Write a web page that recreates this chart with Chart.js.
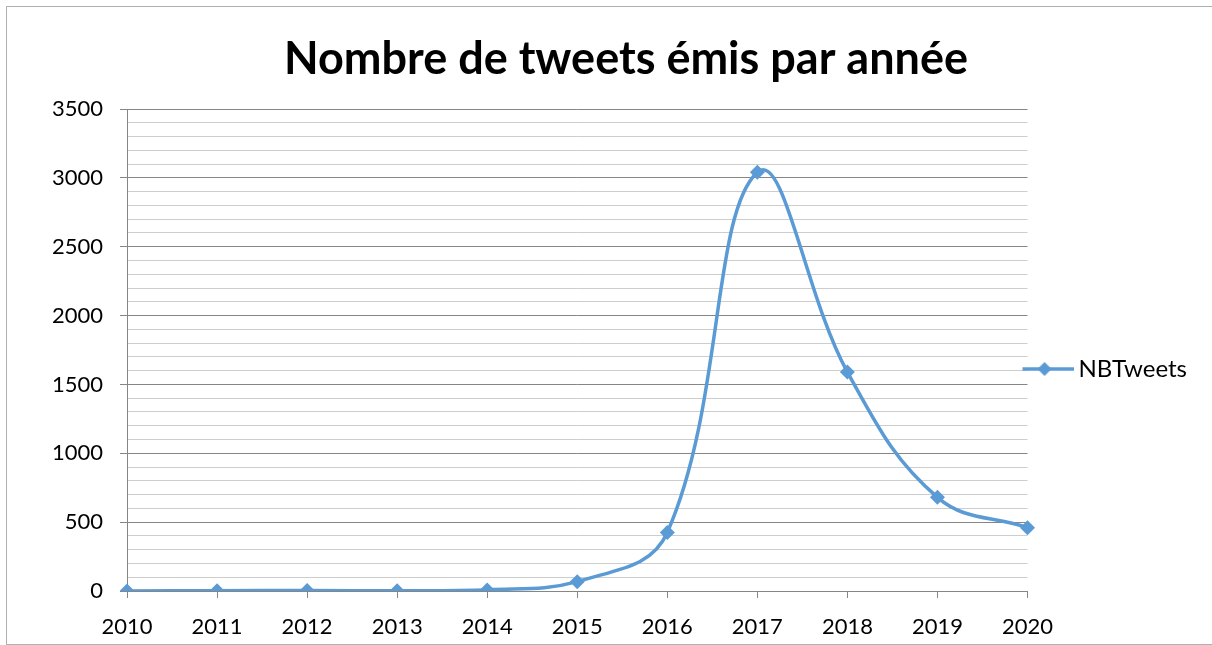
<!DOCTYPE html>
<html>
<head>
<meta charset="utf-8">
<script src="https://cdn.jsdelivr.net/npm/chart.js@4.4.1/dist/chart.umd.min.js"></script>
<style>
  body { margin: 0; background: #fff; }
  #wrap { position: relative; width: 1212px; height: 645px; }
  #frame { position: absolute; left: 6px; top: 6px; width: 1212px; height: 637px; border: 1px solid #b0b0b0; pointer-events: none; }
  canvas { position: absolute; left: 0; top: 0; }
</style>
</head>
<body>
<div id="wrap">
  <canvas id="chart" width="1212" height="645"></canvas>
  <div id="frame"></div>
</div>
<script>
// data
const years = ['2010', '2011', '2012', '2013', '2014', '2015', '2016', '2017', '2018', '2019', '2020'];
const nbTweets = [0, 2, 3, 2, 8, 68, 425, 3040, 1590, 680, 460];
const seriesName = 'NBTweets';
const chartTitle = 'Nombre de tweets émis par année';

const blue = '#5B9BD5';

// legend symbol: line with a diamond in the middle (Excel style)
const legendIcon = document.createElement('canvas');
legendIcon.width = 58;
legendIcon.height = 18;
const lc = legendIcon.getContext('2d');
lc.strokeStyle = blue;
lc.lineWidth = 3.5;
lc.beginPath();
lc.moveTo(0, 9);
lc.lineTo(58, 9);
lc.stroke();
lc.fillStyle = blue;
lc.beginPath();
lc.moveTo(29, 2);
lc.lineTo(36, 9);
lc.lineTo(29, 16);
lc.lineTo(22, 9);
lc.closePath();
lc.fill();

// nudge title and legend to where Excel put them
const nudge = {
    id: 'nudge',
    afterLayout(chart) {
        chart.legend.top += 93;
        chart.legend.left -= 5;
        chart.legend.right -= 5;
        chart.titleBlock.left += 25;
        chart.titleBlock.right += 25;
    }
};

const ctx = document.getElementById('chart').getContext('2d');
const chart = new Chart(ctx, {
    type: 'line',
    data: {
        labels: years,
        datasets: [{
            label: seriesName,
            data: nbTweets,
            borderColor: blue,
            backgroundColor: blue,
            borderWidth: 3.5,
            tension: 0.4,
            pointStyle: 'rectRot',
            pointRadius: 7.5,
            pointBorderWidth: 0,
            pointBackgroundColor: blue
        }]
    },
    options: {
        responsive: false,
        animation: false,
        layout: {
            padding: { left: 0, right: 10, top: 0, bottom: 0 }
        },
        plugins: {
            title: {
                display: true,
                text: chartTitle,
                color: '#000',
                font: { family: 'Lato', size: 45, weight: 'bold' },
                padding: { top: 32, bottom: 23 }
            },
            legend: {
                position: 'right',
                labels: {
                    usePointStyle: true,
                    pointStyle: legendIcon,
                    pointStyleWidth: 44,
                    padding: 0,
                    color: '#000',
                    font: { family: 'Lato', size: 24 }
                }
            },
            tooltip: { enabled: false }
        },
        scales: {
            x: {
                offset: false,
                afterFit(scale) { scale.height = 54; },
                grid: {
                    drawOnChartArea: false,
                    drawTicks: true,
                    tickLength: 7,
                    color: '#868686'
                },
                border: { display: true, color: '#868686' },
                ticks: {
                    color: '#000',
                    padding: 16,
                    maxRotation: 0,
                    font: { family: 'Lato', size: 22 }
                }
            },
            y: {
                min: 0,
                max: 3500,
                afterFit(scale) { scale.width = 127; },
                grid: {
                    tickLength: 7,
                    color: c => c.tick.value % 500 === 0 ? '#868686' : '#cdcdcd',
                    tickColor: c => c.tick.value % 500 === 0 ? '#868686' : 'rgba(0,0,0,0)'
                },
                border: { color: '#868686' },
                ticks: {
                    stepSize: 100,
                    autoSkip: false,
                    padding: 17,
                    color: '#000',
                    font: { family: 'Lato', size: 22 },
                    callback: v => v % 500 === 0 ? v : ''
                }
            }
        }
    },
    plugins: [nudge]
});
</script>
</body>
</html>
